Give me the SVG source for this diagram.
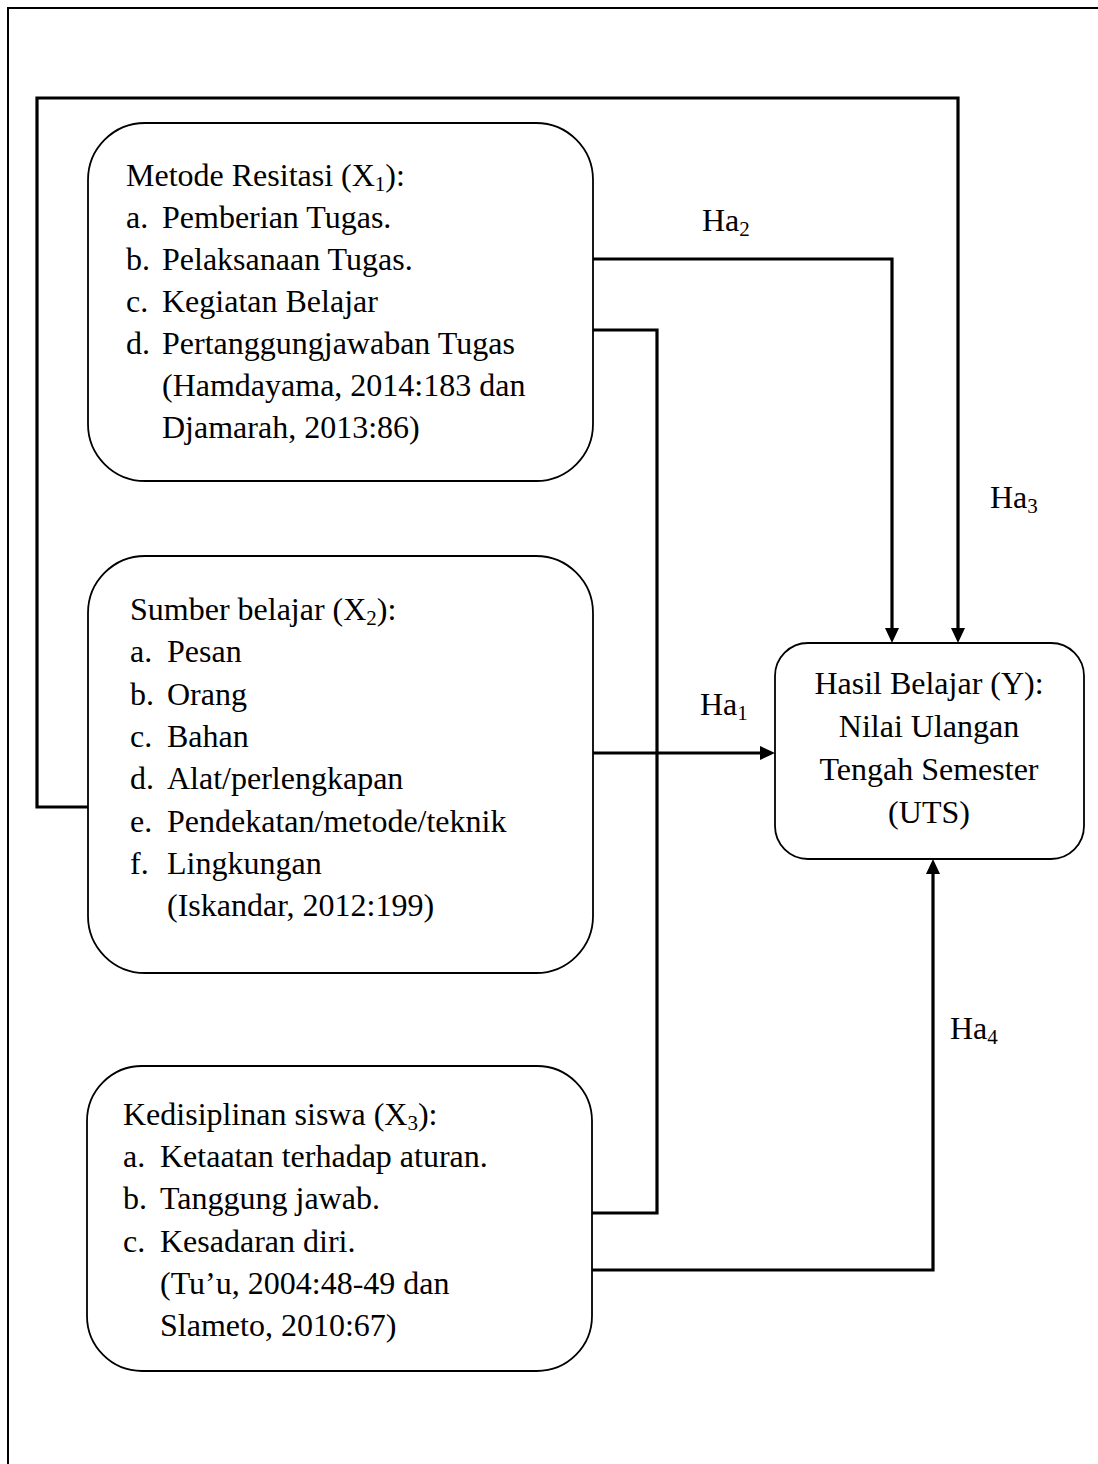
<svg xmlns="http://www.w3.org/2000/svg" width="1098" height="1464" viewBox="0 0 1098 1464">
<style>
text{font-family:"Liberation Serif","Times New Roman",serif;font-size:32px;fill:#000}
.sub{font-size:21px}
.box{fill:#fff;stroke:#000;stroke-width:1.8}
.conn{fill:none;stroke:#000;stroke-width:3.2;stroke-linejoin:miter}
.lbl{font-size:32px}
</style>
<defs>
<marker id="arr" markerUnits="userSpaceOnUse" markerWidth="15" markerHeight="14" viewBox="0 0 15 14" refX="0" refY="7" orient="auto">
<path d="M0,0 L15,7 L0,14 z" fill="#000"/>
</marker>
</defs>
<rect width="1098" height="1464" fill="#fff"/>
<path d="M8,1464 V8 H1098" fill="none" stroke="#000" stroke-width="2"/>

<g id="connectors">
<path class="conn" d="M88,807 H37 V98 H958 V628" marker-end="url(#arr)"/>
<path class="conn" d="M593,259 H892 V628" marker-end="url(#arr)"/>
<path class="conn" d="M593,330 H657 V1213 H592"/>
<path class="conn" d="M593,753 H760" marker-end="url(#arr)"/>
<path class="conn" d="M592,1270 H933 V874" marker-end="url(#arr)"/>
<text class="lbl" x="702" y="231">Ha<tspan class="sub" dy="5">2</tspan></text>
<text class="lbl" x="990" y="508">Ha<tspan class="sub" dy="5">3</tspan></text>
<text class="lbl" x="700" y="715">Ha<tspan class="sub" dy="5">1</tspan></text>
<text class="lbl" x="950" y="1039">Ha<tspan class="sub" dy="5">4</tspan></text>
</g>

<g id="x1">
<rect class="box" x="88" y="123" width="505" height="358" rx="57" ry="57"/>
<text x="126" y="186">Metode Resitasi (X<tspan class="sub" dy="5">1</tspan><tspan dy="-5">):</tspan></text>
<text x="126" y="228">a.</text><text x="162" y="228">Pemberian Tugas.</text>
<text x="126" y="270">b.</text><text x="162" y="270">Pelaksanaan Tugas.</text>
<text x="126" y="312">c.</text><text x="162" y="312">Kegiatan Belajar</text>
<text x="126" y="354">d.</text><text x="162" y="354">Pertanggungjawaban Tugas</text>
<text x="162" y="396">(Hamdayama, 2014:183 dan</text>
<text x="162" y="438">Djamarah, 2013:86)</text>
</g>

<g id="x2">
<rect class="box" x="88" y="556" width="505" height="417" rx="57" ry="57"/>
<text x="130" y="620">Sumber belajar (X<tspan class="sub" dy="5">2</tspan><tspan dy="-5">):</tspan></text>
<text x="130" y="662">a.</text><text x="167" y="662">Pesan</text>
<text x="130" y="705">b.</text><text x="167" y="705">Orang</text>
<text x="130" y="747">c.</text><text x="167" y="747">Bahan</text>
<text x="130" y="789">d.</text><text x="167" y="789">Alat/perlengkapan</text>
<text x="130" y="832">e.</text><text x="167" y="832">Pendekatan/metode/teknik</text>
<text x="130" y="874">f.</text><text x="167" y="874">Lingkungan</text>
<text x="167" y="916">(Iskandar, 2012:199)</text>
</g>

<g id="x3">
<rect class="box" x="87" y="1066" width="505" height="305" rx="55" ry="55"/>
<text x="123" y="1125">Kedisiplinan siswa (X<tspan class="sub" dy="5">3</tspan><tspan dy="-5">):</tspan></text>
<text x="123" y="1167">a.</text><text x="160" y="1167">Ketaatan terhadap aturan.</text>
<text x="123" y="1209">b.</text><text x="160" y="1209">Tanggung jawab.</text>
<text x="123" y="1252">c.</text><text x="160" y="1252">Kesadaran diri.</text>
<text x="160" y="1294">(Tu’u, 2004:48-49 dan</text>
<text x="160" y="1336">Slameto, 2010:67)</text>
</g>

<g id="y">
<rect class="box" x="775" y="643" width="309" height="216" rx="33" ry="33"/>
<text x="929" y="694" text-anchor="middle">Hasil Belajar (Y):</text>
<text x="929" y="737" text-anchor="middle">Nilai Ulangan</text>
<text x="929" y="780" text-anchor="middle">Tengah Semester</text>
<text x="929" y="823" text-anchor="middle">(UTS)</text>
</g>
</svg>
